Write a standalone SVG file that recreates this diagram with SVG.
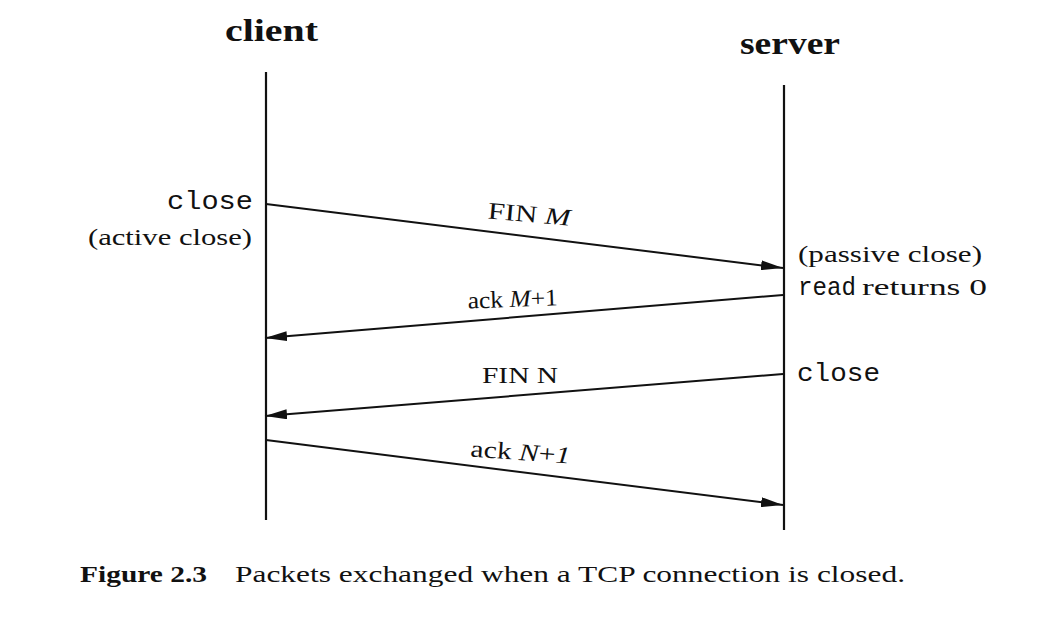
<svg xmlns="http://www.w3.org/2000/svg" width="1037" height="618" viewBox="0 0 1037 618">
<style>
.ser{font-family:"Liberation Serif","DejaVu Serif",serif;fill:#111}
.mono{font-family:"Liberation Mono","DejaVu Sans Mono",monospace;fill:#111}
.title{font-size:32px;font-weight:bold}
.lbl{font-size:24px}
.m{font-size:26px}
.life{stroke:#111;stroke-width:2.2;fill:none}
.msg{stroke:#111;stroke-width:2;fill:none;marker-end:url(#ah)}
</style>
<defs>
<marker id="ah" markerWidth="22" markerHeight="10" refX="22" refY="5" orient="auto" markerUnits="userSpaceOnUse">
<path d="M0,0 L22,5 L0,10 Z" fill="#111"/>
</marker>
</defs>
<rect width="1037" height="618" fill="#fff"/>
<g id="client">
<text class="ser title" x="225" y="41" textLength="93" lengthAdjust="spacingAndGlyphs">client</text>
<line class="life" x1="266" y1="72" x2="266" y2="520"/>
<text class="mono m" x="167" y="209" textLength="86" lengthAdjust="spacingAndGlyphs">close</text>
<text class="ser lbl" x="88" y="245" textLength="164" lengthAdjust="spacingAndGlyphs">(active close)</text>
</g>
<g id="server">
<text class="ser title" x="740" y="54" textLength="100" lengthAdjust="spacingAndGlyphs">server</text>
<line class="life" x1="784" y1="85" x2="784" y2="530"/>
<text class="ser lbl" x="798" y="262" textLength="184" lengthAdjust="spacingAndGlyphs">(passive close)</text>
<text class="mono m" x="798" y="295" textLength="58" lengthAdjust="spacingAndGlyphs">read</text>
<text class="ser lbl" x="862" y="295" textLength="125" lengthAdjust="spacingAndGlyphs">returns 0</text>
<text class="mono m" x="797" y="381" textLength="83" lengthAdjust="spacingAndGlyphs">close</text>
</g>
<g id="connectors">
<line class="msg" x1="266" y1="204" x2="783" y2="268"/>
<line class="msg" x1="783" y1="295" x2="265" y2="338"/>
<line class="msg" x1="783" y1="374" x2="265" y2="416"/>
<line class="msg" x1="266" y1="440" x2="783" y2="505"/>
<text class="ser lbl" x="487" y="222" textLength="83" lengthAdjust="spacingAndGlyphs" transform="rotate(5 528 222)">FIN <tspan font-style="italic">M</tspan></text>
<text class="ser lbl" x="468" y="307" textLength="90" lengthAdjust="spacingAndGlyphs" transform="rotate(-2 513 307)">ack <tspan font-style="italic">M</tspan>+1</text>
<text class="ser lbl" x="482" y="383" textLength="76" lengthAdjust="spacingAndGlyphs">FIN N</text>
<text class="ser lbl" x="470" y="460" textLength="100" lengthAdjust="spacingAndGlyphs" transform="rotate(4 520 460)">ack <tspan font-style="italic">N</tspan>+<tspan font-style="italic">1</tspan></text>
</g>
<g id="caption">
<text class="ser lbl" x="80" y="582" font-weight="bold" textLength="127" lengthAdjust="spacingAndGlyphs">Figure 2.3</text>
<text class="ser lbl" x="235" y="582" textLength="670" lengthAdjust="spacingAndGlyphs">Packets exchanged when a TCP connection is closed.</text>
</g>
</svg>
